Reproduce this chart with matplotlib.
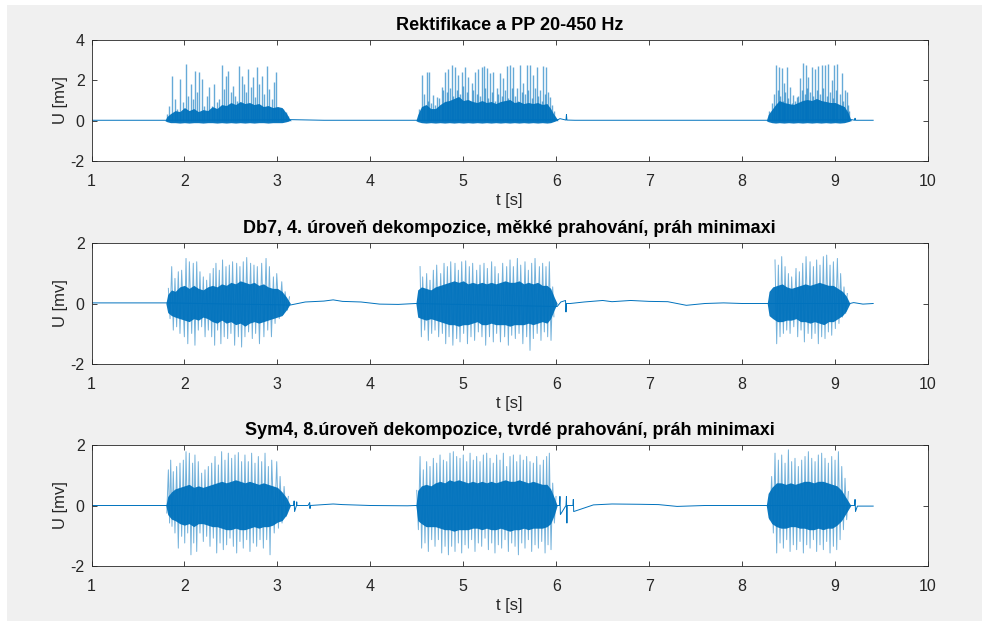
"""
EMG signal: rectification + two wavelet denoising variants, three stacked panels.
"""
import matplotlib
matplotlib.use("Agg")
import matplotlib.pyplot as plt
import matplotlib.patches as mpatches
import numpy as np

BLUE = "#0072BD"
GRAY_BG = "#F0F0F0"
AX_COL = "#262626"

TITLES = [
    "Rektifikace a PP 20-450 Hz",
    "Db7, 4. úroveň dekompozice, měkké prahování, práh minimaxi",
    "Sym4, 8.úroveň dekompozice, tvrdé prahování, práh minimaxi",
]
X_TICKS = [1, 2, 3, 4, 5, 6, 7, 8, 9, 10]
Y_TICKS = [[-2, 0, 2, 4], [-2, 0, 2], [-2, 0, 2]]
Y_LIMS = [(-2, 4), (-2, 2), (-2, 2)]

# ---- panel 1: rectified signal -------------------------------------------
p1_base_t = [1.0, 1.79, 3.15, 3.5, 4.0, 4.49, 6.02, 6.04, 6.105, 6.11, 6.115, 6.2, 7.0, 8.26,
             9.18, 9.21, 9.215, 9.22, 9.41]
p1_base_v = [0.02, 0.02, 0.05, 0.02, 0.02, 0.02, 0.05, 0.1, 0.03, 0.3, 0.03, 0.02, 0.02, 0.02,
             0.05, 0.02, 0.12, 0.02, 0.02]

p1_core_t = [1.79, 1.81, 1.85, 1.90, 1.95, 2.00, 2.05, 2.10, 2.15, 2.20, 2.25, 2.30, 2.35, 2.40,
             2.45, 2.50, 2.55, 2.60, 2.65, 2.70, 2.75, 2.80, 2.85, 2.90, 2.95, 3.00, 3.05, 3.10,
             3.13, 3.15,
             4.49, 4.51, 4.55, 4.60, 4.65, 4.70, 4.75, 4.80, 4.85, 4.90, 4.95, 5.00, 5.05, 5.10,
             5.15, 5.20, 5.25, 5.30, 5.35, 5.40, 5.45, 5.50, 5.55, 5.60, 5.65, 5.70, 5.75, 5.80,
             5.85, 5.90, 5.94, 5.97, 6.00, 6.02,
             8.26, 8.28, 8.32, 8.36, 8.40, 8.45, 8.50, 8.55, 8.60, 8.65, 8.70, 8.75, 8.80, 8.85,
             8.90, 8.95, 9.00, 9.05, 9.10, 9.14, 9.17, 9.18]
p1_core_hi = [0.0, 0.2, 0.35, 0.5, 0.45, 0.65, 0.5, 0.6, 0.45, 0.55, 0.5, 0.7, 0.6, 0.8,
              0.75, 0.9, 0.8, 0.95, 0.85, 0.9, 0.8, 0.85, 0.7, 0.75, 0.65, 0.7, 0.65, 0.35,
              0.1, 0.0,
              0.0, 0.3, 0.7, 0.8, 0.6, 0.6, 0.8, 0.95, 1.0, 1.1, 1.2, 1.0, 1.05, 0.95,
              0.9, 1.0, 0.9, 0.95, 0.85, 0.95, 1.0, 1.05, 0.9, 0.95, 0.85, 0.9, 0.85, 0.9,
              0.8, 0.85, 0.6, 0.35, 0.15, 0.0,
              0.0, 0.3, 0.55, 0.8, 1.0, 0.9, 0.85, 0.8, 0.9, 1.0, 1.05, 1.0, 1.1, 1.0,
              0.95, 0.9, 0.9, 0.8, 0.7, 0.4, 0.05, 0.0]
p1_core_lo = [0.0, -0.05, -0.1, -0.1, -0.12, -0.1, -0.12, -0.1, -0.1, -0.12, -0.1, -0.1, -0.12, -0.1,
              -0.12, -0.1, -0.12, -0.1, -0.12, -0.1, -0.12, -0.1, -0.1, -0.12, -0.1, -0.1, -0.1, -0.05,
              0.0, 0.0,
              0.0, -0.05, -0.1, -0.12, -0.1, -0.12, -0.1, -0.12, -0.1, -0.12, -0.1, -0.12, -0.1, -0.12,
              -0.1, -0.12, -0.1, -0.12, -0.1, -0.12, -0.1, -0.12, -0.1, -0.12, -0.1, -0.12, -0.1, -0.12,
              -0.1, -0.12, -0.1, -0.05, 0.0, 0.0,
              0.0, -0.05, -0.1, -0.12, -0.1, -0.12, -0.1, -0.12, -0.1, -0.12, -0.1, -0.12, -0.1, -0.12,
              -0.1, -0.12, -0.1, -0.12, -0.1, -0.05, 0.0, 0.0]

# tall spikes
p1_spk_t = [1.809, 1.838, 1.863, 1.899, 1.924, 1.953, 1.981, 2.017, 2.042, 2.067, 2.096, 2.114,
            2.139, 2.160, 2.186, 2.211, 2.239, 2.268, 2.293, 2.318, 2.347, 2.375, 2.400, 2.425,
            2.447, 2.472, 2.497, 2.518, 2.544, 2.569, 2.590, 2.616, 2.641, 2.662, 2.687, 2.712,
            2.734, 2.759, 2.784, 2.806, 2.831, 2.856, 2.884, 2.913, 2.938, 2.963, 2.985, 3.010,
            3.035, 3.064, 3.093, 3.118,
            4.552, 4.606, 4.635, 4.678, 4.714, 4.768, 4.804, 4.839, 4.875, 4.911, 4.947, 4.983,
            5.019, 5.055, 5.090, 5.126, 5.162, 5.198, 5.223, 5.252, 5.288, 5.323, 5.359, 5.395,
            5.431, 5.467, 5.503, 5.539, 5.575, 5.611, 5.646, 5.682, 5.718, 5.754, 5.790, 5.826,
            5.862, 5.890, 5.933,
            8.365, 8.401, 8.426, 8.451, 8.480, 8.516, 8.551, 8.587, 8.623, 8.659, 8.688, 8.713,
            8.749, 8.785, 8.820, 8.856, 8.892, 8.928, 8.964, 8.989, 9.025, 9.072, 9.107, 9.125]
p1_spk_v = [0.33, 0.74, 2.23, 1.07, 0.58, 2.07, 0.91, 2.81, 1.24, 1.82, 1.07, 2.48,
            1.40, 2.40, 2.07, 0.74, 1.24, 1.65, 0.74, 1.82, 0.91, 1.07, 2.76, 1.57,
            2.23, 2.48, 1.40, 1.74, 1.24, 0.99, 2.69, 2.23, 1.82, 1.40, 2.56, 1.65,
            2.15, 1.16, 2.64, 1.82, 2.23, 1.32, 2.73, 1.57, 1.07, 1.90, 2.40, 0.66,
            0.58, 0.58, 0.41, 0.25,
            2.27, 2.43, 2.43, 1.27, 1.18, 1.68, 2.43, 2.55, 2.77, 2.65, 2.27, 2.43,
            2.68, 2.18, 1.85, 2.43, 2.55, 2.68, 2.72, 2.60, 2.35, 2.43, 1.60, 2.35,
            2.10, 2.72, 2.77, 2.68, 1.60, 2.77, 1.85, 2.77, 2.77, 2.27, 2.68, 1.52,
            2.72, 2.68, 1.18,
            2.77, 2.68, 2.60, 1.85, 2.68, 1.68, 1.27, 1.18, 2.10, 2.85, 2.77, 2.18,
            2.65, 2.55, 2.72, 2.77, 2.77, 2.82, 2.00, 2.77, 2.82, 2.35, 1.52, 1.43]
# medium spikes between the tall ones (bursts 2 and 3)
p1_mid_t = [4.520, 4.580, 4.620, 4.655, 4.695, 4.740, 4.785, 4.820, 4.857, 4.893, 4.930, 4.965,
            5.000, 5.037, 5.072, 5.108, 5.144, 5.180, 5.238, 5.270, 5.305, 5.340, 5.377, 5.413,
            5.449, 5.485, 5.520, 5.557, 5.593, 5.628, 5.664, 5.700, 5.736, 5.772, 5.808, 5.845,
            5.876, 5.910, 5.950, 5.980,
            8.290, 8.320, 8.345, 8.383, 8.413, 8.438, 8.465, 8.498, 8.533, 8.569, 8.605, 8.641,
            8.674, 8.700, 8.731, 8.767, 8.802, 8.838, 8.874, 8.910, 8.946, 8.977, 9.007, 9.050,
            9.090, 9.140, 9.155]
p1_mid_v = [0.6, 1.3, 1.0, 0.9, 0.8, 1.1, 1.5, 1.4, 1.6, 1.2, 1.5, 1.3,
            1.7, 1.4, 1.0, 1.5, 1.3, 1.2, 1.6, 1.1, 1.4, 1.0, 1.3, 1.2,
            1.5, 1.1, 1.6, 1.2, 1.0, 1.4, 1.3, 1.5, 1.1, 1.6, 1.2, 1.0,
            1.3, 1.4, 0.8, 0.5,
            0.5, 0.9, 1.3, 1.5, 1.2, 1.0, 1.4, 1.1, 0.9, 1.0, 1.2, 1.5,
            1.3, 1.6, 1.4, 1.2, 1.5, 1.3, 1.6, 1.2, 1.4, 1.1, 1.5, 1.3,
            1.0, 0.8, 0.5]

# ---- panel 2: Db7 soft threshold -----------------------------------------
p2_base_t = [1.0, 1.8, 3.14, 3.3, 3.5, 3.6, 3.7, 3.9, 4.1, 4.3, 4.49, 6.01, 6.05, 6.1, 6.105,
             6.11, 6.15, 6.3, 6.5, 6.6, 6.8, 7.0, 7.2, 7.4, 7.6, 7.8, 8.0, 8.27, 9.16, 9.2,
             9.3, 9.41]
p2_base_v = [0.02, 0.02, -0.05, 0.05, 0.08, 0.12, 0.07, 0.05, -0.02, -0.03, 0.0, -0.1, 0.05, 0.1,
             -0.28, 0.0, 0.0, 0.05, 0.1, 0.06, 0.1, 0.07, 0.06, -0.06, 0.0, 0.02, 0.0, 0.0, 0.0,
             0.03, -0.02, 0.0]

p2_core_t = [1.80, 1.82, 1.86, 1.90, 1.95, 2.00, 2.05, 2.10, 2.15, 2.20, 2.25, 2.30, 2.35, 2.40,
             2.45, 2.50, 2.55, 2.60, 2.65, 2.70, 2.75, 2.80, 2.85, 2.90, 2.95, 3.00, 3.05, 3.10,
             3.14,
             4.49, 4.51, 4.55, 4.60, 4.65, 4.70, 4.75, 4.80, 4.85, 4.90, 4.95, 5.00, 5.05, 5.10,
             5.15, 5.20, 5.25, 5.30, 5.35, 5.40, 5.45, 5.50, 5.55, 5.60, 5.65, 5.70, 5.75, 5.80,
             5.85, 5.90, 5.94, 5.98, 6.01,
             8.27, 8.29, 8.33, 8.38, 8.43, 8.48, 8.53, 8.58, 8.63, 8.68, 8.73, 8.78, 8.83, 8.88,
             8.93, 8.98, 9.03, 9.08, 9.12, 9.16]
p2_core_hi = [0.0, 0.3, 0.45, 0.4, 0.55, 0.6, 0.5, 0.6, 0.5, 0.45, 0.55, 0.6, 0.55, 0.65,
              0.6, 0.7, 0.65, 0.75, 0.7, 0.65, 0.7, 0.6, 0.65, 0.55, 0.5, 0.5, 0.4, 0.2,
              0.0,
              0.0, 0.45, 0.55, 0.5, 0.45, 0.55, 0.6, 0.65, 0.7, 0.75, 0.7, 0.75, 0.65, 0.7,
              0.65, 0.7, 0.65, 0.7, 0.65, 0.7, 0.75, 0.7, 0.7, 0.75, 0.65, 0.7, 0.65, 0.7,
              0.6, 0.6, 0.5, 0.2, 0.0,
              0.0, 0.4, 0.55, 0.6, 0.65, 0.55, 0.5, 0.55, 0.6, 0.65, 0.6, 0.65, 0.7, 0.65,
              0.6, 0.6, 0.5, 0.4, 0.25, 0.0]
p2_core_lo = [0.0, -0.3, -0.4, -0.45, -0.5, -0.55, -0.6, -0.5, -0.55, -0.45, -0.5, -0.6, -0.65, -0.55,
              -0.65, -0.6, -0.7, -0.65, -0.75, -0.65, -0.6, -0.65, -0.6, -0.55, -0.5, -0.45, -0.4, -0.2,
              0.0,
              0.0, -0.45, -0.5, -0.55, -0.5, -0.55, -0.6, -0.65, -0.7, -0.7, -0.75, -0.7, -0.7, -0.65,
              -0.6, -0.7, -0.7, -0.65, -0.7, -0.7, -0.7, -0.75, -0.7, -0.7, -0.7, -0.65, -0.7, -0.65,
              -0.6, -0.65, -0.5, -0.2, 0.0,
              0.0, -0.4, -0.5, -0.6, -0.6, -0.55, -0.55, -0.5, -0.6, -0.6, -0.65, -0.6, -0.65, -0.7,
              -0.6, -0.6, -0.5, -0.4, -0.25, 0.0]

p2_up_t = [1.827, 1.863, 1.898, 1.934, 1.970, 2.017, 2.053, 2.095, 2.132, 2.167, 2.203, 2.239,
           2.275, 2.310, 2.339, 2.375, 2.410, 2.447, 2.483, 2.518, 2.562, 2.597, 2.633, 2.670,
           2.712, 2.748, 2.784, 2.831, 2.878, 2.914, 2.957, 2.993, 3.047, 3.083, 3.130,
           4.535, 4.563, 4.606, 4.642, 4.678, 4.714, 4.757, 4.793, 4.829, 4.865, 4.911, 4.947,
           4.983, 5.026, 5.065, 5.101, 5.144, 5.180, 5.223, 5.259, 5.305, 5.341, 5.377, 5.424,
           5.467, 5.503, 5.539, 5.582, 5.618, 5.664, 5.700, 5.736, 5.772, 5.819, 5.854, 5.890,
           5.926, 5.962,
           8.354, 8.390, 8.426, 8.462, 8.498, 8.533, 8.580, 8.616, 8.652, 8.688, 8.731, 8.767,
           8.802, 8.838, 8.874, 8.910, 8.946, 8.982, 9.025, 9.060, 9.096, 9.132]
p2_up_v = [0.50, 1.22, 0.83, 1.05, 1.10, 1.49, 1.38, 1.33, 1.38, 1.05, 0.88, 0.77,
           0.99, 1.16, 1.33, 1.10, 1.44, 1.22, 1.27, 1.38, 1.33, 1.22, 1.38, 1.52,
           1.33, 1.27, 1.22, 1.33, 1.49, 1.22, 0.88, 0.99, 0.72, 0.39, 0.22,
           1.22, 0.88, 0.99, 0.77, 1.10, 1.27, 0.99, 1.33, 1.22, 1.38, 1.33, 1.10,
           1.38, 1.41, 1.22, 1.33, 1.10, 1.27, 1.33, 1.16, 1.38, 1.22, 0.99, 1.33,
           1.22, 1.44, 1.22, 1.49, 1.27, 1.38, 1.10, 1.33, 1.49, 1.22, 1.33, 1.22,
           1.38, 0.55,
           1.44, 1.27, 1.55, 1.22, 0.99, 0.88, 1.16, 1.05, 1.33, 1.55, 1.38, 1.22,
           1.44, 1.27, 1.55, 1.60, 1.27, 1.38, 1.49, 0.99, 0.55, 0.33]
p2_dn_t = [1.845, 1.880, 1.916, 1.952, 1.999, 2.036, 2.078, 2.113, 2.149, 2.185, 2.222, 2.257,
           2.293, 2.325, 2.357, 2.392, 2.428, 2.465, 2.500, 2.540, 2.580, 2.615, 2.651, 2.690,
           2.730, 2.766, 2.807, 2.855, 2.896, 2.936, 2.975, 3.020, 3.065, 3.107,
           4.549, 4.585, 4.624, 4.660, 4.696, 4.735, 4.775, 4.811, 4.847, 4.888, 4.929, 4.965,
           5.004, 5.045, 5.083, 5.122, 5.162, 5.201, 5.241, 5.282, 5.323, 5.359, 5.400, 5.445,
           5.485, 5.521, 5.560, 5.600, 5.641, 5.682, 5.718, 5.754, 5.795, 5.836, 5.872, 5.908,
           5.944, 5.975,
           8.372, 8.408, 8.444, 8.480, 8.516, 8.556, 8.598, 8.634, 8.670, 8.710, 8.749, 8.785,
           8.820, 8.856, 8.892, 8.928, 8.964, 9.003, 9.042, 9.078, 9.114]
p2_dn_v = [-0.50, -0.88, -0.77, -0.99, -1.10, -1.33, -0.99, -1.38, -0.88, -0.77, -1.10, -0.88,
           -1.10, -1.38, -0.88, -1.33, -1.10, -1.16, -0.99, -1.38, -1.10, -1.44, -1.10, -0.94,
           -1.16, -0.99, -1.33, -1.10, -0.88, -1.10, -0.66, -0.50, -0.35, -0.22,
           -1.10, -0.88, -1.22, -0.99, -0.88, -1.10, -0.99, -1.33, -1.10, -1.38, -1.16, -1.27,
           -0.99, -1.33, -1.10, -1.22, -0.94, -1.10, -1.38, -1.10, -1.27, -0.99, -1.27, -1.10,
           -1.38, -1.05, -1.16, -0.99, -1.33, -1.10, -1.55, -1.16, -0.99, -1.22, -0.94, -1.10,
           -1.22, -0.44,
           -1.33, -1.10, -0.99, -0.88, -0.99, -0.77, -1.10, -0.88, -1.27, -0.99, -1.16, -0.99,
           -1.33, -1.10, -1.16, -0.94, -1.05, -0.83, -0.66, -0.45, -0.33]

# ---- panel 3: Sym4 hard threshold ----------------------------------------
p3_base_t = [1.0, 1.8, 3.14, 3.175, 3.18, 3.185, 3.205, 3.208, 3.211, 3.33, 3.348, 3.351, 3.354,
             3.5, 3.6, 3.7, 4.0, 4.4, 4.49, 6.01, 6.035, 6.04, 6.045, 6.105, 6.11, 6.115, 6.118,
             6.18, 6.184, 6.188, 6.4, 6.6, 6.9, 7.1, 7.3, 7.6, 8.0, 8.26, 9.17, 9.21, 9.215,
             9.22, 9.24, 9.41]
p3_base_v = [0.0, 0.0, 0.0, 0.0, 0.15, -0.2, 0.0, 0.12, 0.0, 0.0, 0.1, -0.1, 0.0,
             0.03, 0.05, 0.03, 0.0, -0.01, 0.0, 0.0, 0.0, 0.3, -0.3, 0.0, 0.3, -0.58, 0.0,
             0.0, 0.2, -0.2, 0.02, 0.05, 0.04, 0.03, -0.03, 0.0, 0.0, 0.0, 0.0, 0.0, 0.2,
             -0.2, -0.02, -0.02]

p3_core_t = [1.80, 1.82, 1.86, 1.90, 1.95, 2.00, 2.05, 2.10, 2.15, 2.20, 2.25, 2.30, 2.35, 2.40,
             2.45, 2.50, 2.55, 2.60, 2.65, 2.70, 2.75, 2.80, 2.85, 2.90, 2.95, 3.00, 3.05, 3.10,
             3.14,
             4.49, 4.51, 4.55, 4.60, 4.65, 4.70, 4.75, 4.80, 4.85, 4.90, 4.95, 5.00, 5.05, 5.10,
             5.15, 5.20, 5.25, 5.30, 5.35, 5.40, 5.45, 5.50, 5.55, 5.60, 5.65, 5.70, 5.75, 5.80,
             5.85, 5.90, 5.94, 5.98, 6.01,
             8.26, 8.28, 8.32, 8.37, 8.42, 8.47, 8.52, 8.57, 8.62, 8.67, 8.72, 8.77, 8.82, 8.87,
             8.92, 8.97, 9.02, 9.07, 9.11, 9.15, 9.17]
p3_core_hi = [0.0, 0.3, 0.45, 0.55, 0.6, 0.65, 0.7, 0.6, 0.65, 0.6, 0.65, 0.7, 0.75, 0.8,
              0.75, 0.8, 0.85, 0.8, 0.75, 0.8, 0.75, 0.7, 0.75, 0.7, 0.65, 0.6, 0.45, 0.25,
              0.0,
              0.0, 0.5, 0.65, 0.7, 0.65, 0.75, 0.8, 0.75, 0.85, 0.8, 0.85, 0.8, 0.75, 0.8,
              0.75, 0.8, 0.75, 0.8, 0.75, 0.8, 0.85, 0.8, 0.8, 0.85, 0.8, 0.75, 0.8, 0.75,
              0.7, 0.7, 0.55, 0.25, 0.0,
              0.0, 0.4, 0.6, 0.75, 0.75, 0.7, 0.75, 0.7, 0.75, 0.8, 0.8, 0.75, 0.8, 0.8,
              0.75, 0.7, 0.65, 0.5, 0.3, 0.1, 0.0]
p3_core_lo = [0.0, -0.3, -0.45, -0.5, -0.6, -0.65, -0.6, -0.7, -0.6, -0.6, -0.65, -0.7, -0.7, -0.75,
              -0.8, -0.8, -0.75, -0.8, -0.8, -0.75, -0.7, -0.75, -0.7, -0.7, -0.65, -0.55, -0.5, -0.3,
              0.0,
              0.0, -0.5, -0.6, -0.7, -0.7, -0.7, -0.75, -0.8, -0.8, -0.85, -0.8, -0.8, -0.8, -0.75,
              -0.75, -0.8, -0.75, -0.8, -0.8, -0.75, -0.8, -0.85, -0.8, -0.8, -0.75, -0.8, -0.75, -0.75,
              -0.75, -0.7, -0.6, -0.3, 0.0,
              0.0, -0.4, -0.6, -0.7, -0.75, -0.75, -0.7, -0.7, -0.75, -0.75, -0.8, -0.8, -0.75, -0.8,
              -0.75, -0.75, -0.65, -0.5, -0.3, -0.1, 0.0]

p3_up_t = [1.827, 1.852, 1.880, 1.916, 1.952, 1.988, 2.017, 2.053, 2.088, 2.113, 2.149, 2.185,
           2.221, 2.257, 2.293, 2.329, 2.365, 2.400, 2.436, 2.472, 2.508, 2.544, 2.580, 2.615,
           2.651, 2.687, 2.723, 2.759, 2.795, 2.831, 2.867, 2.903, 2.939, 2.993, 3.029, 3.072,
           3.118,
           4.499, 4.535, 4.570, 4.606, 4.642, 4.678, 4.714, 4.750, 4.786, 4.822, 4.857, 4.893,
           4.929, 4.965, 5.000, 5.037, 5.073, 5.108, 5.144, 5.180, 5.216, 5.252, 5.288, 5.323,
           5.359, 5.395, 5.431, 5.467, 5.503, 5.539, 5.575, 5.611, 5.646, 5.682, 5.718, 5.754,
           5.790, 5.826, 5.862, 5.897, 5.926, 5.962, 5.998,
           8.318, 8.354, 8.390, 8.426, 8.462, 8.498, 8.533, 8.569, 8.605, 8.641, 8.677, 8.713,
           8.749, 8.785, 8.820, 8.856, 8.892, 8.928, 8.964, 9.000, 9.036, 9.072, 9.107, 9.143]
p3_up_v = [1.18, 1.50, 1.12, 1.29, 1.40, 1.50, 1.78, 1.73, 1.40, 1.67, 1.45, 1.07,
           1.18, 1.29, 1.40, 1.62, 1.34, 1.78, 1.50, 1.73, 1.56, 1.67, 1.75, 1.45,
           1.67, 1.45, 1.73, 1.40, 1.62, 1.45, 1.73, 1.29, 1.50, 1.45, 0.96, 0.63,
           0.30,
           0.50, 1.62, 1.18, 1.45, 1.29, 1.56, 1.40, 1.67, 1.50, 1.45, 1.73, 1.78,
           1.62, 1.56, 1.67, 1.45, 1.73, 1.50, 1.62, 1.45, 1.67, 1.73, 1.56, 1.40,
           1.67, 1.50, 1.73, 1.29, 1.62, 1.67, 1.45, 1.67, 1.50, 1.62, 1.45, 1.40,
           1.62, 1.34, 1.50, 1.62, 1.73, 0.74, 0.30,
           0.96, 1.73, 1.50, 1.67, 1.40, 1.84, 1.45, 1.56, 1.29, 1.50, 1.62, 1.78,
           1.56, 1.45, 1.67, 1.73, 1.56, 1.40, 1.62, 1.50, 1.78, 1.29, 0.90, 0.46]
p3_dn_t = [1.810, 1.840, 1.866, 1.898, 1.934, 1.970, 2.003, 2.035, 2.070, 2.100, 2.132, 2.167,
           2.203, 2.239, 2.275, 2.311, 2.347, 2.383, 2.418, 2.454, 2.490, 2.526, 2.562, 2.597,
           2.633, 2.670, 2.705, 2.741, 2.777, 2.813, 2.849, 2.885, 2.921, 2.966, 3.011, 3.050,
           3.095,
           4.517, 4.552, 4.588, 4.624, 4.660, 4.696, 4.732, 4.768, 4.804, 4.840, 4.875, 4.911,
           4.947, 4.983, 5.019, 5.055, 5.090, 5.126, 5.162, 5.198, 5.234, 5.270, 5.306, 5.341,
           5.377, 5.413, 5.449, 5.485, 5.521, 5.557, 5.593, 5.629, 5.664, 5.700, 5.736, 5.772,
           5.808, 5.844, 5.880, 5.912, 5.944, 5.980,
           8.300, 8.336, 8.372, 8.408, 8.444, 8.480, 8.516, 8.551, 8.587, 8.623, 8.659, 8.695,
           8.731, 8.767, 8.802, 8.838, 8.874, 8.910, 8.946, 8.982, 9.018, 9.054, 9.090, 9.125]
p3_dn_v = [-0.25, -0.58, -0.69, -0.91, -1.41, -1.02, -1.24, -0.91, -1.63, -1.24, -1.52, -0.91,
           -1.19, -1.02, -1.35, -1.08, -1.57, -1.24, -1.46, -1.30, -1.08, -1.35, -1.57, -1.19,
           -1.41, -1.13, -1.52, -1.24, -1.35, -1.13, -1.41, -1.13, -1.63, -0.91, -0.75, -0.58,
           -0.36,
           -0.80, -1.41, -1.24, -1.52, -1.13, -1.35, -1.13, -1.57, -1.35, -1.63, -1.35, -1.52,
           -1.24, -1.57, -1.30, -1.41, -1.13, -1.52, -1.24, -1.35, -1.08, -1.46, -1.24, -1.57,
           -1.30, -1.41, -1.13, -1.52, -1.24, -1.35, -1.63, -1.24, -1.41, -1.13, -1.52, -1.30,
           -1.41, -1.19, -1.57, -1.30, -1.46, -0.58,
           -0.47, -0.91, -1.57, -1.24, -1.41, -1.13, -1.52, -1.30, -1.46, -1.19, -1.57, -1.30,
           -1.41, -1.13, -1.52, -1.30, -1.46, -1.19, -1.57, -1.35, -1.46, -1.13, -0.80, -0.47]

panels = [
    dict(base=(p1_base_t, p1_base_v), core=(p1_core_t, p1_core_lo, p1_core_hi),
         bars=[(p1_spk_t, p1_spk_v), (p1_mid_t, p1_mid_v)], zig=None),
    dict(base=(p2_base_t, p2_base_v), core=(p2_core_t, p2_core_lo, p2_core_hi),
         bars=[], zig=((p2_up_t, p2_up_v), (p2_dn_t, p2_dn_v))),
    dict(base=(p3_base_t, p3_base_v), core=(p3_core_t, p3_core_lo, p3_core_hi),
         bars=[], zig=((p3_up_t, p3_up_v), (p3_dn_t, p3_dn_v))),
]


def zigzag(up, dn):
    """Join positive and negative peaks in time order; break the line between bursts."""
    t = np.concatenate([up[0], dn[0]])
    v = np.concatenate([up[1], dn[1]])
    o = np.argsort(t)
    t, v = t[o], v[o]
    gaps = np.where(np.diff(t) > 0.3)[0] + 1
    t = np.insert(t, gaps, np.nan)
    v = np.insert(v, gaps, np.nan)
    return t, v


plt.rcParams["font.family"] = ["Liberation Sans", "DejaVu Sans"]
plt.rcParams["axes.unicode_minus"] = False

W, H = 982, 621
fig = plt.figure(figsize=(W / 100, H / 100), dpi=100)
fig.patch.set_facecolor(GRAY_BG)
# white screenshot margins (left / top)
fig.patches.append(mpatches.Rectangle((0, 0), 7 / W, 1, transform=fig.transFigure,
                                      facecolor="white", edgecolor="none", zorder=0))
fig.patches.append(mpatches.Rectangle((0, 1 - 5 / H), 1, 5 / H, transform=fig.transFigure,
                                      facecolor="white", edgecolor="none", zorder=0))

left, right = 91.5, 928
tops = [40, 243, 445]
hgt = 121

for i, p in enumerate(panels):
    ax = fig.add_axes([left / W, 1 - (tops[i] + hgt) / H, (right - left) / W, hgt / H])
    ax.set_facecolor("white")

    bt, bv = p["base"]
    ax.plot(bt, bv, color=BLUE, lw=0.7)
    if p["zig"] is not None:
        zt, zv = zigzag(*p["zig"])
        ax.plot(zt, zv, color=BLUE, lw=0.7, alpha=0.55)
    for st, sv in p["bars"]:
        ax.vlines(st, 0, sv, color=BLUE, lw=1.0, alpha=0.6)
    ct, clo, chi = p["core"]
    ax.fill_between(ct, clo, chi, color=BLUE, lw=0, alpha=0.95)

    ax.set_xlim(1, 10)
    ax.set_ylim(*Y_LIMS[i])
    ax.set_xticks(X_TICKS)
    ax.set_yticks(Y_TICKS[i])
    ax.tick_params(axis="x", pad=9.5)
    ax.tick_params(axis="y", pad=5)
    ax.tick_params(direction="in", top=True, right=True, length=3.5, width=0.6,
                   colors=AX_COL, labelsize=11.5)
    for s in ax.spines.values():
        s.set_color(AX_COL)
        s.set_linewidth(0.6)
    ax.set_title(TITLES[i], fontsize=13, fontweight="bold", color="black", pad=7)
    ax.set_xlabel("t [s]", fontsize=12, color=AX_COL, labelpad=2.5)
    ax.set_ylabel("U [mv]", fontsize=12, color=AX_COL, labelpad=2)

fig.savefig("out.png", dpi=100, facecolor=fig.get_facecolor())
